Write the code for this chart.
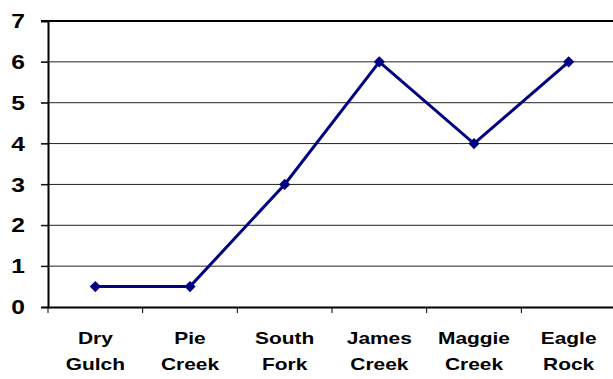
<!DOCTYPE html>
<html>
<head>
<meta charset="utf-8">
<script src="https://cdn.jsdelivr.net/npm/d3@7"></script>
<style>
  body { margin: 0; background: #fff; }
  svg { display: block; font-family: Arial, "Liberation Sans", sans-serif; }
</style>
</head>
<body>
<div id="chart"></div>
<script>
const sites = [['Dry', 'Gulch'], ['Pie', 'Creek'], ['South', 'Fork'], ['James', 'Creek'], ['Maggie', 'Creek'], ['Eagle', 'Rock']]
const values = [0.5, 0.5, 3, 6, 4, 6]
const yTicks = [0, 1, 2, 3, 4, 5, 6, 7]

const W = 613
const H = 379
const margin = { top: 21, left: 48, right: -3, bottom: 72 }
const width = W - margin.left - margin.right
const height = H - margin.top - margin.bottom
// the original text looks stretched sideways
const stretch = 1.23

const svg = d3
  .select('#chart')
  .append('svg')
  .attr('width', W)
  .attr('height', H)
  .append('g')
  .attr('transform', 'translate(' + margin.left + ',' + margin.top + ')')

const xPositionScale = d3
  .scaleBand()
  .domain(d3.range(sites.length))
  .range([0, width])

const yPositionScale = d3
  .scaleLinear()
  .domain([0, 7])
  .range([height, 0])

// gridlines
svg
  .selectAll('.grid')
  .data(yTicks.filter(d => d > 0 && d < 7))
  .enter()
  .append('line')
  .attr('class', 'grid')
  .attr('x1', -7)
  .attr('x2', width)
  .attr('y1', d => yPositionScale(d))
  .attr('y2', d => yPositionScale(d))
  .attr('stroke', '#222')
  .attr('stroke-width', 1)

// top border
svg
  .append('line')
  .attr('x1', -7)
  .attr('x2', width)
  .attr('y1', yPositionScale(7))
  .attr('y2', yPositionScale(7))
  .attr('stroke', '#000')
  .attr('stroke-width', 2)

// y axis
const yAxis = d3
  .axisLeft(yPositionScale)
  .tickValues(yTicks)
  .tickSize(7)
  .tickFormat('')

svg
  .append('g')
  .attr('class', 'axis y-axis')
  .call(yAxis)

svg.selectAll('.y-axis path').attr('stroke', '#000').attr('stroke-width', 2)
svg.selectAll('.y-axis line').attr('stroke', '#000').attr('stroke-width', 1)

svg
  .selectAll('.ylabel')
  .data(yTicks)
  .enter()
  .append('text')
  .attr('class', 'ylabel')
  .attr('transform', d => 'translate(-23,' + yPositionScale(d) + ') scale(' + stretch + ',1)')
  .attr('text-anchor', 'end')
  .attr('dy', '0.36em')
  .attr('font-size', 20)
  .attr('font-weight', 'bold')
  .attr('fill', '#000')
  .text(d => d)

// x axis
const xAxis = d3
  .axisBottom(xPositionScale)
  .tickSize(0)
  .tickFormat('')

svg
  .append('g')
  .attr('class', 'axis x-axis')
  .attr('transform', 'translate(0,' + height + ')')
  .call(xAxis)

svg.selectAll('.x-axis path').attr('stroke', '#000').attr('stroke-width', 2)

// category boundary ticks
svg
  .selectAll('.xtick')
  .data(d3.range(sites.length))
  .enter()
  .append('line')
  .attr('class', 'xtick')
  .attr('x1', d => xPositionScale(d))
  .attr('x2', d => xPositionScale(d))
  .attr('y1', height)
  .attr('y2', height + 6)
  .attr('stroke', '#000')
  .attr('stroke-width', 1)

// x labels
const labels = svg
  .selectAll('.xlabel')
  .data(sites)
  .enter()
  .append('text')
  .attr('class', 'xlabel')
  .attr('transform', (d, i) => 'translate(' + (xPositionScale(i) + xPositionScale.bandwidth() / 2) + ',' + height + ') scale(' + stretch + ',1)')
  .attr('text-anchor', 'middle')
  .attr('font-size', 17)
  .attr('font-weight', 'bold')
  .attr('fill', '#000')

labels
  .append('tspan')
  .attr('x', 0)
  .attr('y', 37)
  .text(d => d[0])

labels
  .append('tspan')
  .attr('x', 0)
  .attr('y', 63)
  .text(d => d[1])

// line
const line = d3
  .line()
  .x((d, i) => xPositionScale(i) + xPositionScale.bandwidth() / 2)
  .y(d => yPositionScale(d))

svg
  .append('path')
  .datum(values)
  .attr('d', line)
  .attr('fill', 'none')
  .attr('stroke', '#000080')
  .attr('stroke-width', 3)

svg
  .selectAll('.marker')
  .data(values)
  .enter()
  .append('path')
  .attr('class', 'marker')
  .attr('d', d3.symbol().type(d3.symbolDiamond2).size(80))
  .attr('transform', (d, i) => 'translate(' + (xPositionScale(i) + xPositionScale.bandwidth() / 2) + ',' + yPositionScale(d) + ')')
  .attr('fill', '#000080')
</script>
</body>
</html>
